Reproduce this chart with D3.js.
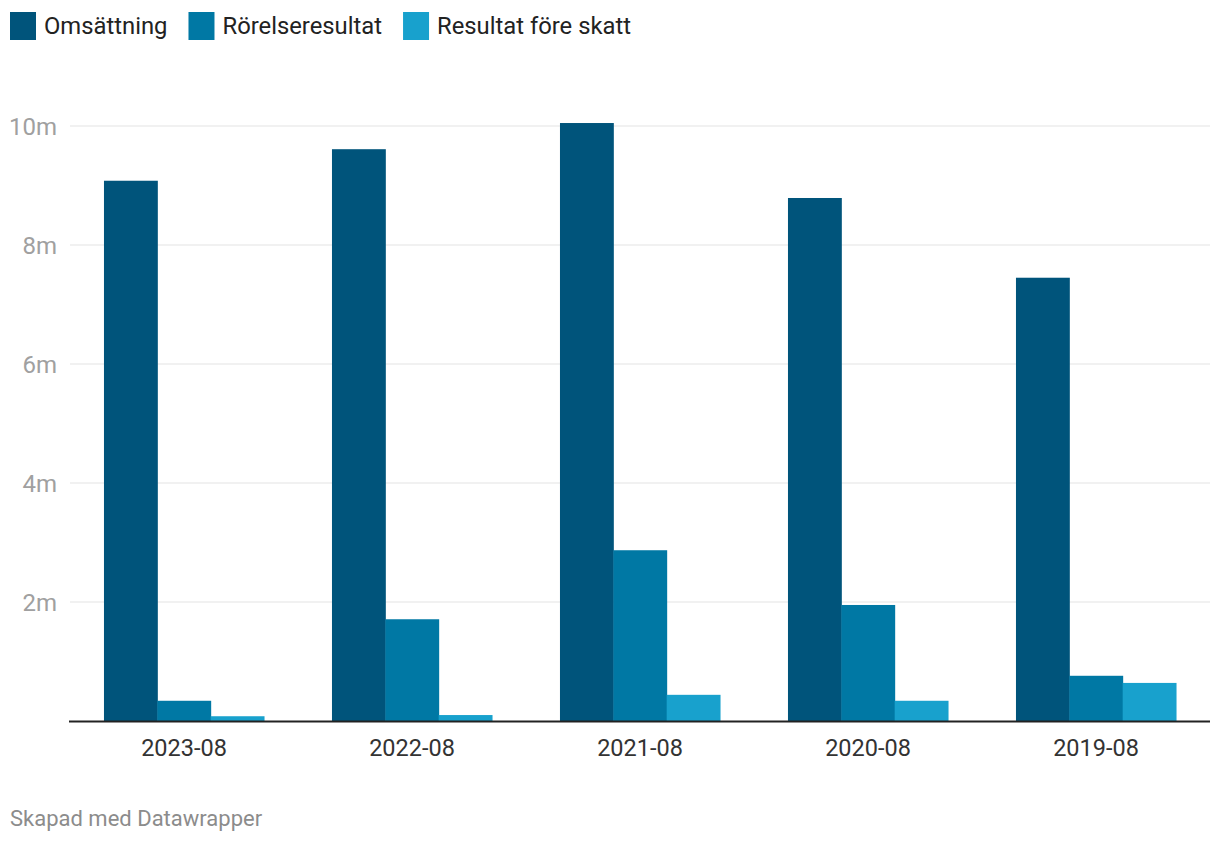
<!DOCTYPE html>
<html><head><meta charset="utf-8">
<script src="https://cdn.jsdelivr.net/npm/d3@7"></script>
<style>body{margin:0;background:#fff;font-family:Roboto,"Noto Sans",sans-serif;}</style>
</head><body>
<svg id="c" width="1220" height="844"></svg>
<script>
const categories = ["2023-08","2022-08","2021-08","2020-08","2019-08"];
const seriesNames = ["Omsättning","Rörelseresultat","Resultat före skatt"];
const omsattning = [9.08, 9.61, 10.05, 8.79, 7.45];
const rorelseresultat = [0.34, 1.71, 2.87, 1.95, 0.76];
const resultatForeSkatt = [0.08, 0.10, 0.44, 0.34, 0.64];
const yTicks = [2, 4, 6, 8, 10];
const colors = ["#00547b", "#0078a4", "#18a1cd"];

const series = [omsattning, rorelseresultat, resultatForeSkatt];
const svg = d3.select("#c");
const x0 = d3.scaleBand().domain(categories).range([70, 1210]).paddingInner(0.298).paddingOuter(0.149);
const x1 = d3.scaleBand().domain(seriesNames).range([0, x0.bandwidth()]);
const y = d3.scaleLinear().domain([0, 10]).range([721, 126]);

// grid
svg.append("g").selectAll("line").data(yTicks).join("line")
  .attr("x1", 70).attr("x2", 1210).attr("y1", d => y(d)).attr("y2", d => y(d))
  .attr("stroke", "#e3e3e3").attr("stroke-width", 1);
svg.append("g").selectAll("text").data(yTicks).join("text")
  .attr("x", 57).attr("y", d => y(d) + 8.5).attr("text-anchor", "end")
  .attr("font-size", 24).attr("fill", "#a0a0a0").text(d => d + "m");

// bars
const g = svg.append("g").selectAll("g").data(categories).join("g")
  .attr("transform", d => `translate(${x0(d)},0)`);
g.selectAll("rect").data((d, i) => series.map((s, j) => ({name: seriesNames[j], v: s[i], j})))
  .join("rect")
  .attr("x", d => x1(d.name)).attr("width", x1.bandwidth() + 0.5)
  .attr("y", d => y(d.v)).attr("height", d => y(0) - y(d.v))
  .attr("fill", d => colors[d.j]);

// baseline
svg.append("line").attr("x1", 69).attr("x2", 1210).attr("y1", 721.5).attr("y2", 721.5)
  .attr("stroke", "#222").attr("stroke-width", 2);

// x labels
svg.append("g").selectAll("text").data(categories).join("text")
  .attr("x", d => x0(d) + x0.bandwidth() / 2).attr("y", 756)
  .attr("text-anchor", "middle").attr("font-size", 23.5).attr("fill", "#333").text(d => d);

// legend
let lx = 10;
const leg = svg.append("g");
seriesNames.forEach((n, i) => {
  leg.append("rect").attr("x", lx).attr("y", 12).attr("width", 26).attr("height", 28).attr("fill", colors[i]);
  const t = leg.append("text").attr("x", lx + 34).attr("y", 34).attr("font-size", 23.8).attr("fill", "#222").text(n);
  lx += 34 + t.node().getComputedTextLength() + 21;
});

// footer
svg.append("text").attr("x", 10).attr("y", 826).attr("font-size", 22).attr("fill", "#8c8c8c").text("Skapad med Datawrapper");
</script>
</body></html>
